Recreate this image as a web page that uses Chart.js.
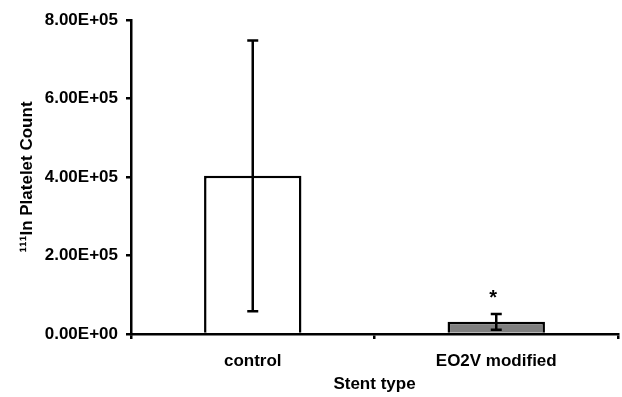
<!DOCTYPE html>
<html>
<head>
<meta charset="utf-8">
<script src="https://cdn.jsdelivr.net/npm/chart.js@4"></script>
<style>
  html, body { margin: 0; padding: 0; background: #fff; }
  #wrap { width: 622px; height: 397px; }
</style>
</head>
<body>
<div id="wrap"><canvas id="myChart"></canvas></div>
<script>
var categories = ["control", "EO2V modified"];
var counts = [4.03e5, 0.31e5];
var errors = [3.45e5, 0.20e5];
var marks = ["", "*"];
var barColors = ["#ffffff", "#7f7f7f"];
var yTicks = [0, 2e5, 4e5, 6e5, 8e5];

// 8.00E+05 style labels
function sci(v) {
  var parts = v.toExponential(2).split("e");
  var exp = parts[1];
  return parts[0] + "E" + exp[0] + exp.slice(1).padStart(2, "0");
}

var errorBars = {
  id: "errorBars",
  afterDatasetsDraw: function(chart) {
    var ctx = chart.ctx;
    var meta = chart.getDatasetMeta(0);
    var y = chart.scales.y;
    ctx.save();
    ctx.strokeStyle = "#000";
    ctx.lineWidth = 2.5;
    meta.data.forEach(function(bar, i) {
      var top = y.getPixelForValue(counts[i] + errors[i]);
      var bot = y.getPixelForValue(counts[i] - errors[i]);
      ctx.beginPath();
      ctx.moveTo(bar.x, top); ctx.lineTo(bar.x, bot);
      ctx.moveTo(bar.x - 5.5, top); ctx.lineTo(bar.x + 5.5, top);
      ctx.moveTo(bar.x - 5.5, bot); ctx.lineTo(bar.x + 5.5, bot);
      ctx.stroke();
      if (marks[i]) {
        ctx.fillStyle = "#000";
        ctx.font = "bold 20px 'Liberation Sans', Arial, sans-serif";
        ctx.textAlign = "center";
        ctx.textBaseline = "alphabetic";
        ctx.fillText(marks[i], bar.x - 3, top - 10);
      }
    });
    ctx.restore();
  }
};

var font = { family: "'Liberation Sans', Arial, sans-serif", size: 17, weight: "bold" };

new Chart("myChart", {
  type: "bar",
  data: {
    labels: categories,
    datasets: [{
      data: counts,
      backgroundColor: barColors,
      borderColor: "#000",
      borderWidth: 2.5,
      barPercentage: 0.4,
      categoryPercentage: 1
    }]
  },
  options: {
    responsive: true,
    maintainAspectRatio: false,
    animation: false,
    layout: { padding: { top: 20, right: 4, left: 0, bottom: 0 } },
    plugins: { legend: { display: false }, tooltip: { enabled: false } },
    scales: {
      x: {
        offset: true,
        grid: { display: true, drawOnChartArea: false, tickLength: 5, color: "#000", lineWidth: 2.5, offset: true },
        border: { color: "#000", width: 2.5 },
        ticks: { color: "#000", font: font, padding: 12, maxRotation: 0 },
        title: { display: true, text: "Stent type", color: "#000", font: font, padding: { top: 4, bottom: 2 } },
        afterFit: function(s) { s.height = 63; }
      },
      y: {
        min: 0,
        max: 8e5,
        afterBuildTicks: function(s) { s.ticks = yTicks.map(function(v) { return { value: v }; }); },
        grid: { display: true, drawOnChartArea: false, tickLength: 5, color: "#000", lineWidth: 2.5 },
        border: { color: "#000", width: 2.5 },
        ticks: { color: "#000", font: font, padding: 8, callback: function(v) { return sci(v); } },
        title: { display: true, text: "¹¹¹In Platelet Count", color: "#000", font: font, padding: { top: 17, bottom: 4 } },
        afterFit: function(s) { s.width = 131; }
      }
    }
  },
  plugins: [errorBars]
});
</script>
</body>
</html>
